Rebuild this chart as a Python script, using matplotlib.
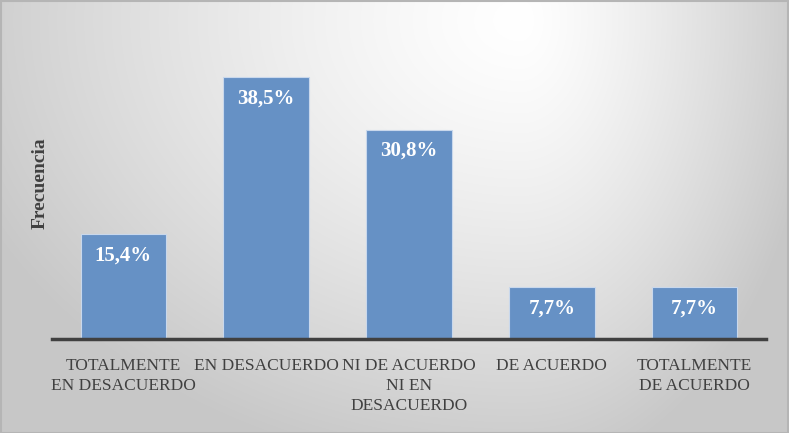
import numpy as np
import matplotlib
matplotlib.use("Agg")
import matplotlib.pyplot as plt
from matplotlib.patches import Rectangle

# datos del gráfico
categorias = ["TOTALMENTE\nEN DESACUERDO", "EN DESACUERDO", "NI DE ACUERDO\nNI EN\nDESACUERDO",
              "DE ACUERDO", "TOTALMENTE\nDE ACUERDO"]
porcentajes = [15.4, 38.5, 30.8, 7.7, 7.7]
etiquetas = ["15,4%", "38,5%", "30,8%", "7,7%", "7,7%"]

W, H = 789, 433
fig = plt.figure(figsize=(W / 100, H / 100), dpi=100)

# fondo con degradado radial (blanco arriba a la derecha, gris en los bordes)
bg = fig.add_axes([0, 0, 1, 1], zorder=-10)
yy, xx = np.mgrid[0:H, 0:W]
cx, cy = 520, 20
sx = np.where(xx < cx, 600.0, 300.0)
d = np.sqrt(((xx - cx) / sx) ** 2 + ((yy - cy) / 460.0) ** 2)
gris = (255 - 56 * np.clip(d, 0, 1) ** 1.3) / 255.0
img = np.dstack([gris, gris, gris])
bg.imshow(img, aspect="auto", extent=[0, W, H, 0])
bg.add_patch(Rectangle((0.5, 0.5), W - 1, H - 1, fill=False, edgecolor="#b5b5b5", lw=1.5))
bg.set_xlim(0, W)
bg.set_ylim(H, 0)
bg.axis("off")

ax = fig.add_axes([52 / W, (H - 339) / H, (766 - 52) / W, (339 - 33) / H])
ax.patch.set_alpha(0)
x = np.arange(len(categorias))
barras = ax.bar(x, porcentajes, width=0.6, color="#6691c5", edgecolor="#c9d8ec", linewidth=0.8)

for b, txt in zip(barras, etiquetas):
    ax.annotate(txt, (b.get_x() + b.get_width() / 2, b.get_height()),
                xytext=(0, -15.5), textcoords="offset points", ha="center", va="center",
                color="white", fontsize=15, fontweight="bold", family="Liberation Serif")

ax.set_xlim(-0.5, 4.5)
ax.set_ylim(0, 45)
ax.set_yticks([])
for s in ["top", "right", "left"]:
    ax.spines[s].set_visible(False)
ax.spines["bottom"].set_color("#404040")
ax.spines["bottom"].set_linewidth(2.5)
ax.set_xticks(x)
ax.set_xticklabels(categorias, family="Liberation Serif", fontsize=12.5, color="#404040",
                   linespacing=1.3)
ax.tick_params(axis="x", length=0, pad=14)

fig.text(40 / W, 1 - 183 / H, "Frecuencia", rotation=90, ha="center", va="center",
         family="Liberation Serif", fontsize=14, fontweight="bold", color="#404040")

fig.savefig("out.png", dpi=100)
